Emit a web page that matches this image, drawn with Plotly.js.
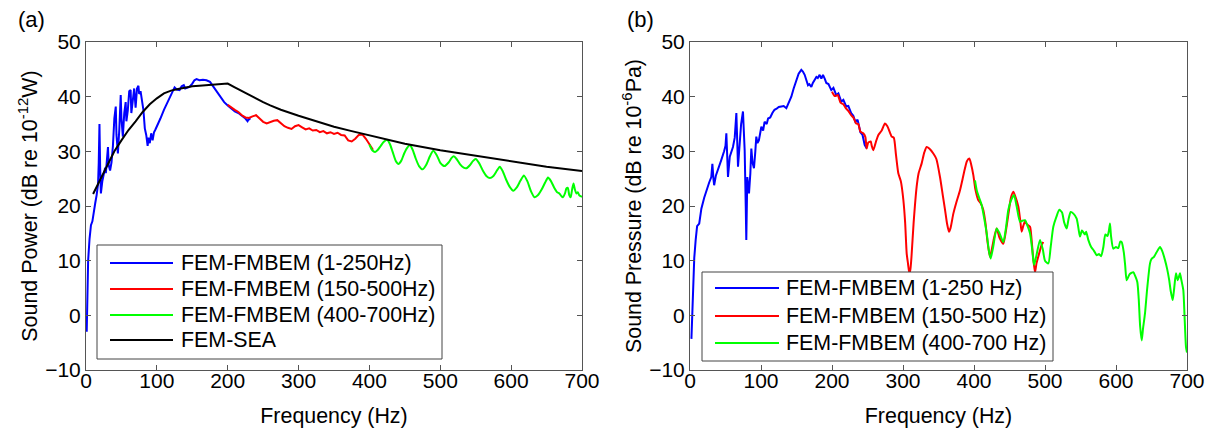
<!DOCTYPE html>
<html>
<head>
<meta charset="utf-8">
<script src="https://cdn.plot.ly/plotly-3.0.1.min.js"></script>
<style>html,body{margin:0;padding:0;background:#fff;}#chart{width:1211px;height:428px;}</style>
</head>
<body>
<div id="chart"></div>
<script>
// ---------- (a) Sound power ----------
const aBlueF = [1,2,3,5,7,9,11,13,15,17,18,19,20,21,23,25,27,28,30,31,32,34,36,38,40,42,43,45,47,49,50,52,54,56,57,59,61,63,64,66,68,70,72,74,75,77,79,81,83,85,87,88,90,92,94,96,98,100,105,110,115,120,125,128,132,135,138,140,143,146,150,153,156,160,165,170,175,180,185,190,195,200,205,210,215,220,225,228,230,232];
const aBlueV = [-3,5,10,14,16.5,17.2,18.5,20.5,22,24,28,35,27,22.3,24.5,25.5,27,26,30.5,30.8,27.5,26.5,28,31,36,38.2,33,29.6,34,40.3,36,32.7,37,39,35.5,37.5,41,41.2,37,40,41.5,38,41.5,42,40.5,41,39,37.6,34.2,33,31,32.5,31.5,33.3,32,33.5,34,34.5,36,37.6,39,40.6,41.7,41.3,41.2,41.9,42.1,41.5,41.7,41.8,42.4,43,43.2,43,43.1,43,42.7,41.8,40.8,39.8,39,38.4,37.9,37.3,37,36.5,36,35.5,36,35.8];

const aRedF = [200,205,210,215,220,225,230,235,240,245,250,255,260,265,270,275,280,285,290,295,300,305,310,315,320,325,330,335,340,345,350,355,360,365,370,375,380,385,390,395,400,405];
const aRedV = [38.5,38.0,37.6,37.2,36.6,36.2,36.1,36.4,36.6,36.0,35.4,35.1,35.4,35.6,35.7,35.2,34.6,34.3,34.1,34.6,34.8,34.4,34.0,34.2,33.8,33.9,33.5,33.7,33.3,33.5,33.2,33.4,33.0,32.9,32.0,31.8,32.3,33.0,33.1,32.3,31.2,30.3];

const aGreenF = [400,404,408,412,416,420,425,429,433,437,441,445,449,453,457,461,465,470,475,480,485,490,495,500,506,512,516,519,523,528,533,537,542,546,550,555,560,565,570,575,580,584,588,593,598,603,608,613,618,623,628,633,638,643,648,652,656,661,665,668,671,673,676,678,680,682,684,686,688,690,692,694,696,698,700];
const aGreenV = [31.2,30.2,29.9,30.3,31.0,31.7,32.1,31.3,29.8,28.3,27.7,28.3,29.6,30.6,31.1,30.3,28.8,27.3,26.7,27.5,29.0,30.1,29.3,27.9,27.3,28.0,28.8,29.1,28.6,27.6,27.0,26.9,27.5,28.2,28.6,27.8,26.5,25.5,25.1,25.5,26.5,27.2,26.4,24.8,23.5,22.8,23.4,24.6,25.6,24.5,22.7,21.6,22.0,23.0,24.3,25.2,24.6,23.3,22.5,22.3,21.8,21.6,22.3,23.2,23.3,22.0,21.6,23.0,24.1,23.0,22.3,22.5,22.0,21.8,21.7];

const aSeaF = [10,15,20,25,30,40,50,60,70,80,90,100,110,120,130,140,150,160,170,180,190,200,210,220,230,240,250,260,275,300,325,350,375,400,450,500,550,600,650,700];
const aSeaV = [22.2,23.5,24.7,25.9,27.2,30.0,32.0,33.9,35.5,37.2,38.6,39.7,40.6,41.1,41.4,41.7,41.9,42.0,42.1,42.2,42.3,42.4,41.7,41.0,40.3,39.6,39.0,38.4,37.6,36.5,35.5,34.5,33.7,32.9,31.4,30.2,29.2,28.1,27.2,26.4];

// ---------- (b) Sound pressure ----------
const bBlueF = [2,4,6,8,10,13,16,20,23,27,30,31.5,33,34,36.5,40,44,48,50,51.2,53.5,56,58,60.5,63,65.3,67.6,70,72,74.6,77,78.5,79.3,80.7,82,83.1,85,86.4,88,90.1,92,93.4,95,97,100.5,103,105,108,110,113,116,119,122,125,128.6,132,135.7,139,142.7,146,149.8,153,156.8,159,161.5,164,166.2,168,170.9,173,175.6,178,180,182.6,185,187.3,190,192,195,199,202,206,209,213,216,220,223,227,230,233,236,240,243,246,249];
const bBlueV = [-4.3,5,10.5,13.8,16.3,16.8,19.5,21.5,22.9,24.3,25.3,27.7,25.0,23.8,25.6,26.8,28.4,30.0,31.0,33.3,25.3,29.0,29.8,30.8,32.5,37.0,27.2,32.7,35.0,37.3,30.2,20.0,13.8,25.3,23.0,22.3,26.0,30.5,28.0,26.9,30.0,32.7,31.5,32.0,34.5,33.8,35.4,35.0,36.0,36.2,37.0,37.6,37.8,38.1,38.2,38.3,37.9,38.8,40.0,41.5,43.1,44.2,44.9,44.6,44.0,43.0,42.1,42.3,41.8,42.5,43.1,43.6,43.4,44.0,43.3,44.0,43.2,42.5,42.3,41.2,41.6,40.3,40.6,39.1,39.4,38.2,38.3,37.0,36.5,35.4,35.8,33.5,33.0,31.2,30.5];

const bRedF = [200,204,208,212,216,220,223,227,230,234,237,240,244,247,248.8,251,254.5,256,258.2,262,265.3,270,274.6,278,282,284,287,290,293.4,297,300.5,303,305.2,307,309,310.5,312,315,319.2,322,326.3,330,333.3,337,342.7,347,352.1,356,359.2,362,364.8,367,370.9,375,380.3,384,387.3,390,393.4,396,399,402,406,409,413,416,419,422.5,425,428,431.9,436,441.3,445,449,452,455.4,458,462.4,465,467.1,469.5,471.8,475,478.9,481,483,485.9,488,490,493,495,497.6];
const bRedV = [40.9,40.1,40.3,38.9,38.6,37.8,37.4,36.6,36.2,35.1,35.0,33.6,33.3,32.6,30.5,31.6,31.8,31.0,30.2,31.8,33.0,33.8,35.1,34.6,33.3,32.7,32.5,29.5,26.0,24.5,21.1,17.0,11.3,9.5,7.6,8.5,10.8,17.0,23.5,26.0,27.8,29.8,30.8,30.5,29.6,28.6,25.3,22.0,19.3,16.8,15.3,16.0,18.6,20.6,22.9,25.0,26.9,28.2,28.7,27.6,25.7,23.0,21.1,20.6,19.3,17.0,13.5,10.7,12.0,14.0,15.9,14.2,13.1,15.5,19.0,21.5,22.6,21.8,19.9,17.5,15.3,16.4,17.1,16.6,16.2,14.0,11.0,7.8,9.5,10.5,11.9,12.8,13.4];

const bGreenF = [401.4,404,407,410.8,414,417.9,421,423.5,427,431.9,436,441.3,445,448.3,452,456.3,460,464.8,468,471.8,475,478.9,482,484.5,488,493,497,500,504.7,508,511.7,516,520.2,524,527,530.5,533,536.2,540,544.6,547,549.3,552,556.3,558,561,565,569,572.8,576,579,582.2,585,588,590,591.5,593,596.2,600,603.3,606,608,611,613,615,619,624.4,627,630,632,634,636.2,638,640.8,644,647.9,650,653.5,657,662,665,669,672,675,677,679.8,682,684.5,686.9,688.5,690.1,692,694.8,696.5,698.6,700];
const bGreenV = [24.7,22.8,21.6,20.2,18.0,15.0,11.8,10.4,12.5,15.9,15.0,13.4,16.0,19.3,21.0,22.0,20.0,17.1,17.3,17.4,16.5,15.0,12.0,9.2,11.0,13.8,12.0,10.0,9.5,12.5,16.2,18.0,19.3,18.8,17.0,15.9,17.5,18.9,18.6,17.7,16.0,14.4,15.5,14.8,15.3,13.8,12.5,11.8,11.0,11.2,10.8,12.5,14.8,14.5,15.5,16.8,14.5,12.2,12.5,12.3,13.5,13.4,11.5,9.0,6.4,7.5,7.9,7.2,6.1,3.0,-2.0,-4.6,-2.5,0.3,5.0,9.5,10.3,10.7,11.5,12.5,11.8,10.1,8.5,6.4,4.5,2.8,5.0,7.7,6.4,7.0,7.7,6.5,4.6,0,-5.8,-6.8];

const xTicks = [0,100,200,300,400,500,600,700];
const yTicks = [-10,0,10,20,30,40,50];

const namesA = ['FEM-FMBEM (1-250Hz)','FEM-FMBEM (150-500Hz)','FEM-FMBEM (400-700Hz)','FEM-SEA'];
const namesB = ['FEM-FMBEM (1-250 Hz)','FEM-FMBEM (150-500 Hz)','FEM-FMBEM (400-700 Hz)'];
const colorsA = ['#0000ff','#ff0000','#00ff00','#000000'];
const colorsB = ['#0000ff','#ff0000','#00ff00'];

const LW = 2;
function tr(x,y,name,color,xa,ya,shape){
  return {x:x,y:y,name:name,type:'scatter',mode:'lines',xaxis:xa,yaxis:ya,showlegend:false,
    line:{color:color,width:LW,shape:shape||'linear',smoothing:0.6},hoverinfo:'skip'};
}

const data = [
  tr(aBlueF,aBlueV,namesA[0],colorsA[0],'x','y'),
  tr(aRedF,aRedV,namesA[1],colorsA[1],'x','y'),
  tr(aGreenF,aGreenV,namesA[2],colorsA[2],'x','y','spline'),
  tr(aSeaF,aSeaV,namesA[3],colorsA[3],'x','y'),
  tr(bBlueF,bBlueV,namesB[0],colorsB[0],'x2','y2'),
  tr(bRedF,bRedV,namesB[1],colorsB[1],'x2','y2','spline'),
  tr(bGreenF,bGreenV,namesB[2],colorsB[2],'x2','y2','spline')
];

const W=1211, H=428, T=42, B=58;
const ph = H-T-B;
const px = v => v/W;
const py = v => (H-B-v)/ph;
const FONT='"Liberation Sans", Arial, Helvetica, sans-serif';
const TXT = 21.4;
function xax(dom,anchor){
  return {domain:dom,anchor:anchor,range:[0,700],tickvals:xTicks,ticks:'inside',ticklen:5,tickcolor:'#555',
    mirror:'ticks',showline:true,linecolor:'#555',linewidth:1,showgrid:false,zeroline:false,
    ticklabelstandoff:-8,
    tickfont:{size:21},title:{text:'Frequency (Hz)',font:{size:TXT},standoff:21}};
}
function yax(anchor,title){
  return {domain:[0,1],anchor:anchor,range:[-10,50],tickvals:yTicks,ticks:'inside',ticklen:5,tickcolor:'#555',
    mirror:'ticks',showline:true,linecolor:'#555',linewidth:1,showgrid:false,zeroline:false,
    tickfont:{size:21},title:{text:title,font:{size:TXT},standoff:1}};
}

// manual legends (box, line samples, labels)
const shapes = [], annotations = [];
function makeLegend(box, lineX0, lineX1, textX, rows, names, colors){
  shapes.push({type:'rect',xref:'paper',yref:'paper',x0:px(box[0]),x1:px(box[1]),y0:py(box[2]),y1:py(box[3]),
    line:{color:'#444',width:1},fillcolor:'#ffffff',layer:'above'});
  names.forEach((n,i)=>{
    shapes.push({type:'line',xref:'paper',yref:'paper',x0:px(lineX0),x1:px(lineX1),y0:py(rows[i]),y1:py(rows[i]),
      line:{color:colors[i],width:2},layer:'above'});
    annotations.push({text:n,xref:'paper',yref:'paper',x:px(textX),y:py(rows[i]),xanchor:'left',yanchor:'middle',
      showarrow:false,font:{size:TXT,color:'#000'},borderpad:0});
  });
}
makeLegend([97,442,245,359],110,173,180,[263,289,315,340],namesA,colorsA);
makeLegend([702,1053,272,361],715,779,785,[288,316,343],namesB,colorsB);

annotations.push({text:'(a)',xref:'paper',yref:'paper',x:px(31),y:py(19),xanchor:'center',yanchor:'middle',showarrow:false,font:{size:22}});
annotations.push({text:'(b)',xref:'paper',yref:'paper',x:px(640),y:py(19),xanchor:'center',yanchor:'middle',showarrow:false,font:{size:22}});

const layout = {
  width:W,height:H,margin:{l:0,r:0,t:T,b:B,pad:0},
  paper_bgcolor:'#ffffff',plot_bgcolor:'#ffffff',
  font:{family:FONT,size:21,color:'#000'},
  showlegend:false,
  xaxis:xax([86/W,582/W],'y'),
  yaxis:yax('x','Sound Power (dB re 10<sup>-12</sup>W)'),
  xaxis2:xax([690/W,1187/W],'y2'),
  yaxis2:yax('x2','Sound Pressure (dB re 10<sup>-6</sup>Pa)'),
  shapes:shapes,
  annotations:annotations
};
Plotly.newPlot('chart',data,layout,{staticPlot:true,displayModeBar:false});
</script>
</body>
</html>
